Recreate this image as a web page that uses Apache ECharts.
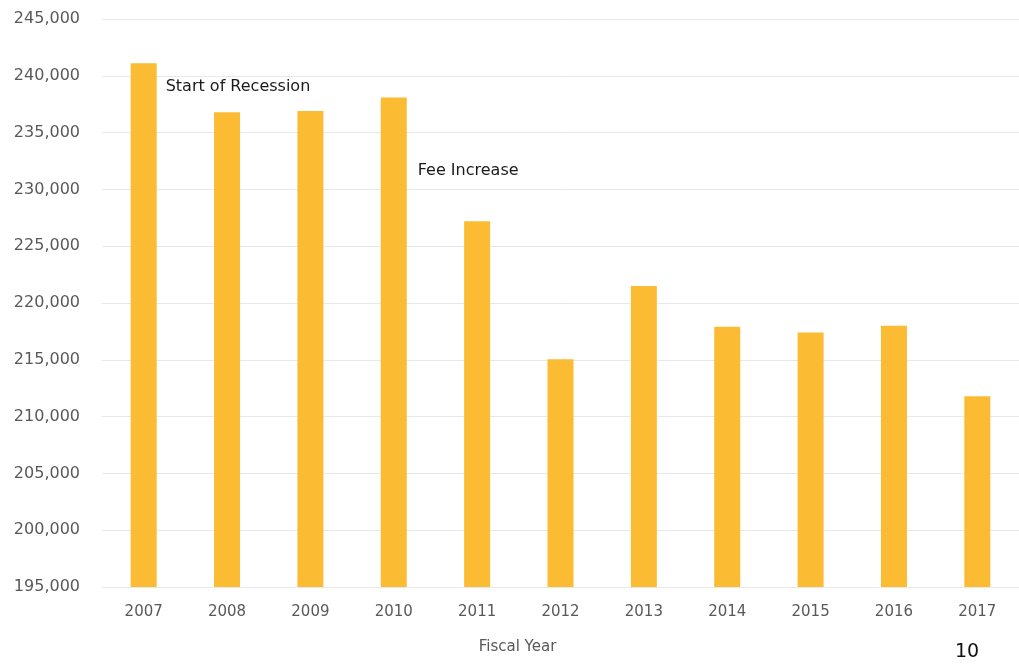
<!DOCTYPE html>
<html>
<head>
<meta charset="utf-8">
<script src="https://cdn.jsdelivr.net/npm/echarts@6/dist/echarts.min.js"></script>
<style>
html,body{margin:0;padding:0;background:#fff;}
#chart{width:1019px;height:665px;}
</style>
</head>
<body>
<div id="chart"></div>
<script>
var categories = ['2007','2008','2009','2010','2011','2012','2013','2014','2015','2016','2017'];
var enrollment = [241100, 236800, 236900, 238100, 227200, 215050, 221500, 217900, 217400, 218000, 211800];
var yTicks = {min: 195000, max: 245000, interval: 5000};
var annotations = [
  {name: 'Start of Recession', category: '2007', value: 239050},
  {name: 'Fee Increase', category: '2010', value: 231600}
];
var axisTitle = 'Fiscal Year';
var pageNumber = '10';

var chart = echarts.init(document.getElementById('chart'));
var font = 'DejaVu Sans';
chart.setOption({
  animation: false,
  backgroundColor: '#ffffff',
  grid: {left: 102, right: 0, top: 19, bottom: 78},
  xAxis: {
    type: 'category',
    data: categories,
    axisLine: {show: true, lineStyle: {color: '#e8e8e8', width: 1}},
    axisTick: {show: false},
    axisLabel: {color: '#595959', fontFamily: font, fontSize: 15, margin: 18},
    name: axisTitle,
    nameLocation: 'middle',
    nameGap: 53,
    nameTextStyle: {color: '#595959', fontFamily: font, fontSize: 15, padding: [0, 86, 0, 0]}
  },
  yAxis: {
    type: 'value',
    min: yTicks.min,
    max: yTicks.max,
    interval: yTicks.interval,
    axisLine: {show: false},
    axisTick: {show: false},
    splitLine: {lineStyle: {color: '#e8e8e8', width: 1}},
    axisLabel: {
      color: '#595959', fontFamily: font, fontSize: 16, margin: 22,
      formatter: function (v) { return v.toLocaleString('en-US'); }
    }
  },
  series: [{
    type: 'bar',
    data: enrollment,
    barWidth: 26,
    itemStyle: {color: '#FBBC33'},
    markPoint: {
      symbol: 'circle',
      symbolSize: 0,
      data: annotations.map(function (a, i) {
        return {
          name: a.name,
          coord: [a.category, a.value],
          label: {
            show: true,
            formatter: a.name,
            position: [i === 0 ? 22 : 24, 0],
            align: 'left',
            verticalAlign: 'middle',
            color: '#1a1a1a',
            fontFamily: font,
            fontSize: 16
          }
        };
      })
    }
  }],
  graphic: [{
    type: 'text',
    left: 955,
    top: 643,
    style: {text: pageNumber, fill: '#111', font: '19px "DejaVu Sans"'}
  }]
});
</script>
</body>
</html>
